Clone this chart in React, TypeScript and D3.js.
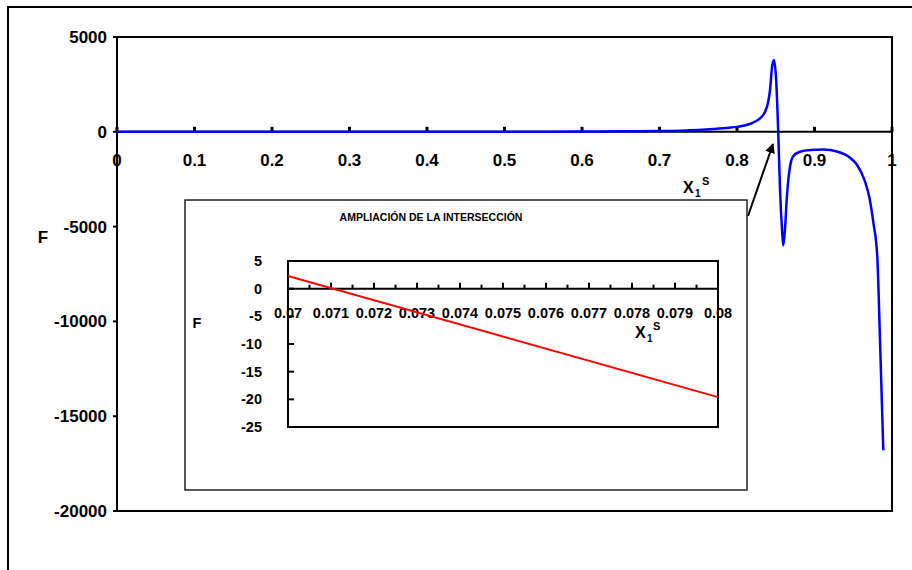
import React from 'react';
import * as d3 from 'd3';

const mainX = [0, 0.1, 0.2, 0.3, 0.4, 0.5, 0.6, 0.65, 0.7, 0.75, 0.77, 0.79, 0.8, 0.81, 0.82, 0.83, 0.8361, 0.84, 0.8426, 0.8452, 0.8477, 0.8503, 0.8532, 0.8555, 0.8581, 0.8597, 0.8619, 0.8641, 0.8658, 0.8684, 0.8723, 0.881, 0.895, 0.911, 0.93, 0.946, 0.955, 0.965, 0.971, 0.976, 0.981, 0.9845, 0.9888];
const mainF = [0, 0, 0, 0, 0, 5, 15, 25, 40, 100, 150, 215, 260, 330, 470, 720, 1050, 1530, 2200, 3400, 3790, 2900, 0, -3050, -5150, -6000, -5150, -3600, -2700, -1840, -1300, -1050, -960, -940, -1050, -1370, -1750, -2600, -3500, -4800, -6580, -10950, -16800];

const xTicks = [0, 0.1, 0.2, 0.3, 0.4, 0.5, 0.6, 0.7, 0.8, 0.9, 1];
const xTickLabels = ['0', '0.1', '0.2', '0.3', '0.4', '0.5', '0.6', '0.7', '0.8', '0.9', '1'];
const yTicks = [5000, 0, -5000, -10000, -15000, -20000];

const insetX = [0.07, 0.08];
const insetF = [2.3, -19.6];
const insetXTicks = [0.07, 0.071, 0.072, 0.073, 0.074, 0.075, 0.076, 0.077, 0.078, 0.079, 0.08];
const insetXTickLabels = ['0.07', '0.071', '0.072', '0.073', '0.074', '0.075', '0.076', '0.077', '0.078', '0.079', '0.08'];
const insetXMinor = [0.0705, 0.0715, 0.0725, 0.0735, 0.0745, 0.0755, 0.0765, 0.0775, 0.0785, 0.0795];
const insetYTicks = [5, 0, -5, -10, -15, -20, -25];

const FONT = '"Liberation Sans", Arial, sans-serif';

export default function App() {
  const x = d3.scaleLinear().domain([0, 1]).range([117, 892]);
  const y = d3.scaleLinear().domain([-20000, 5000]).range([511, 37]);
  const ix = d3.scaleLinear().domain([0.07, 0.08]).range([288, 718]);
  const iy = d3.scaleLinear().domain([-25, 5]).range([427, 261]);

  const mainLine = d3.line<number>()
    .x((_, i) => x(mainX[i]))
    .y((d) => y(d))
    .curve(d3.curveMonotoneX)(mainF) || '';
  const insetLine = d3.line<number>()
    .x((_, i) => ix(insetX[i]))
    .y((d) => iy(d))(insetF) || '';

  return (
    <svg width={912} height={570} style={{ position: 'absolute', left: 0, top: 0, background: '#fff' }}
      fontFamily={FONT} fontWeight="bold">
      <defs>
        <marker id="ah" viewBox="0 0 10 10" refX="9" refY="5" markerWidth="5" markerHeight="5" orient="auto">
          <path d="M0,0 L10,5 L0,10 z" fill="#000" />
        </marker>
      </defs>
      <rect x={0} y={0} width={912} height={570} fill="#fff" />
      {/* outer frame */}
      <rect x={8} y={7} width={1000} height={1000} fill="none" stroke="#000" strokeWidth={2} />

      {/* main plot area */}
      <rect x={x(0)} y={y(5000)} width={x(1) - x(0)} height={y(-20000) - y(5000)} fill="none" stroke="#000" strokeWidth={2} />
      {/* y ticks */}
      {yTicks.map((t) => (
        <g key={'yt' + t}>
          <line x1={x(0) - 4} x2={x(0)} y1={y(t)} y2={y(t)} stroke="#000" strokeWidth={2} />
          <text x={107} y={y(t)} dy="0.35em" textAnchor="end" fontSize={17}>{t}</text>
        </g>
      ))}
      {/* x axis at zero */}
      <line x1={x(0)} x2={x(1)} y1={y(0)} y2={y(0)} stroke="#000" strokeWidth={2} />
      {xTicks.map((t, i) => (
        <g key={'xt' + t}>
          <line x1={x(t)} x2={x(t)} y1={y(0)} y2={y(0) - 5} stroke="#000" strokeWidth={3} />
          <text x={x(t)} y={166} textAnchor="middle" fontSize={17}>{xTickLabels[i]}</text>
        </g>
      ))}
      {/* axis titles */}
      <text x={43} y={243} textAnchor="middle" fontSize={17}>F</text>
      <text x={683} y={193} fontSize={16}>X</text>
      <text x={695} y={197} fontSize={10}>1</text>
      <text x={702} y={185} fontSize={11}>S</text>

      {/* blue curve */}
      <path d={mainLine} fill="none" stroke="#0000ff" strokeWidth={2.5} />

      {/* arrow */}
      <line x1={748} y1={216} x2={773} y2={144} stroke="#000" strokeWidth={2} markerEnd="url(#ah)" />

      {/* inset frame */}
      <rect x={185} y={200} width={562} height={290} fill="#fff" stroke="#222" strokeWidth={1.5} />
      <text x={431} y={221} textAnchor="middle" fontSize={10.5}>AMPLIACIÓN DE LA INTERSECCIÓN</text>
      <rect x={ix(0.07)} y={iy(5)} width={ix(0.08) - ix(0.07)} height={iy(-25) - iy(5)} fill="none" stroke="#000" strokeWidth={2} />
      <line x1={ix(0.07)} x2={ix(0.08)} y1={iy(0)} y2={iy(0)} stroke="#000" strokeWidth={2} />
      {insetXTicks.map((t, i) => (
        <g key={'ixt' + t}>
          <line x1={ix(t)} x2={ix(t)} y1={iy(0)} y2={iy(0) - 6} stroke="#000" strokeWidth={2} />
          <text x={ix(t)} y={318} textAnchor="middle" fontSize={14.5}>{insetXTickLabels[i]}</text>
        </g>
      ))}
      {insetXMinor.map((t) => (
        <line key={'ixm' + t} x1={ix(t)} x2={ix(t)} y1={iy(0)} y2={iy(0) - 4} stroke="#000" strokeWidth={2} />
      ))}
      {insetYTicks.map((t) => (
        <g key={'iyt' + t}>
          <line x1={ix(0.07)} x2={ix(0.07) + 6} y1={iy(t)} y2={iy(t)} stroke="#000" strokeWidth={2} />
          <text x={262} y={iy(t)} dy="0.35em" textAnchor="end" fontSize={14.5}>{t}</text>
        </g>
      ))}
      <text x={197} y={328} textAnchor="middle" fontSize={14.5}>F</text>
      <text x={635} y={338} fontSize={16}>X</text>
      <text x={647} y={342} fontSize={10}>1</text>
      <text x={653} y={330} fontSize={11}>S</text>
      <path d={insetLine} fill="none" stroke="#ff0000" strokeWidth={2} />
    </svg>
  );
}
